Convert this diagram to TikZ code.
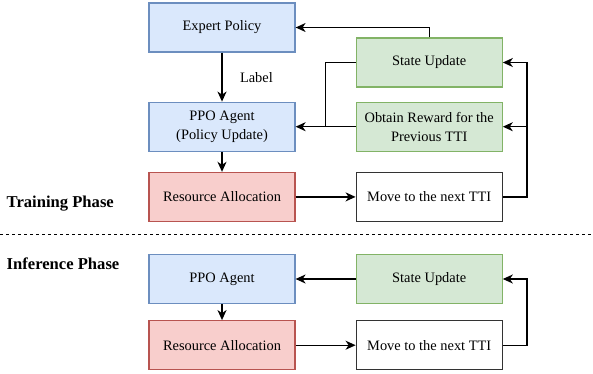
\documentclass[tikz,border=0pt]{standalone}
\usepackage{fontspec}
\setmainfont{Liberation Serif}
\usepackage{tikz}
\usetikzlibrary{positioning, calc}
\usetikzlibrary{arrows.meta}
\definecolor{bluefill}{HTML}{DAE8FC}
\definecolor{blueline}{HTML}{6C8EBF}
\definecolor{greenfill}{HTML}{D5E8D4}
\definecolor{greenline}{HTML}{82B366}
\definecolor{redfill}{HTML}{F8CECC}
\definecolor{redline}{HTML}{B85450}
\tikzset{
  box/.style={draw, line width=1.2pt, minimum width=146pt, minimum height=49pt,
    align=center, inner sep=2pt, font=\fontsize{14.4}{19}\selectfont},
  agent/.style={box, fill=bluefill, draw=blueline},
  env/.style={box, fill=greenfill, draw=greenline},
  alloc/.style={box, fill=redfill, draw=redline},
  plain/.style={box, fill=white, draw=black!80},
  phase/.style={anchor=west, inner sep=0pt, font=\fontsize{16.6}{18}\selectfont\bfseries}
}

\begin{document}
\begin{tikzpicture}[x=1pt,y=-1pt,->,>={Stealth[length=10pt,width=9pt,inset=3pt]},line width=1.4pt]
\useasboundingbox (0,0) rectangle (593,373);

% training phase
\node[agent] (Expert) at (222,27.5) {Expert Policy};
\node[agent] (PPO) [below=49pt of Expert] {PPO Agent\\(Policy Update)};
\node[alloc] (Res) [below=20pt of PPO] {Resource Allocation};
\node[env] (Reward) [right=60pt of PPO] {Obtain Reward for the\\Previous TTI};
\node[env] (State) [above=14pt of Reward] {State Update};
\node[plain] (Move) [right=60pt of Res] {Move to the next TTI};

\coordinate (join) at ($(PPO.east)!0.5!(Reward.west)$);
\coordinate (turn) at ($(Move.east)+(24,0)$);

\path
    (Expert) edge node[right=14pt, font=\fontsize{14.4}{16}\selectfont] {Label} (PPO)
    (PPO) edge (Res)
    (Res) edge (Move)
    (Reward.west) edge (PPO.east);
\draw (State.north) |- (Expert.east);
\draw[-] (State.west) -| (join);
\draw (Move.east) -- (turn) |- (State.east);
\draw (turn) |- (Reward.east);

\node[phase] (Train) at (6,204) {Training Phase};
\draw[-, dashed, line width=1pt] (0,234) -- (593,234);
\node[phase] (Infer) at (6,264) {Inference Phase};

% inference phase
\node[agent] (PPOi) at (222,279) {PPO Agent};
\node[alloc] (Resi) [below=16pt of PPOi] {Resource Allocation};
\node[env] (Statei) [right=60pt of PPOi] {State Update};
\node[plain] (Movei) [right=60pt of Resi] {Move to the next TTI};
\coordinate (turni) at ($(Movei.east)+(24,0)$);

\path
    (PPOi) edge (Resi)
    (Resi) edge (Movei)
    (Statei) edge (PPOi);
\draw (Movei.east) -- (turni) |- (Statei.east);
\end{tikzpicture}
\end{document}
